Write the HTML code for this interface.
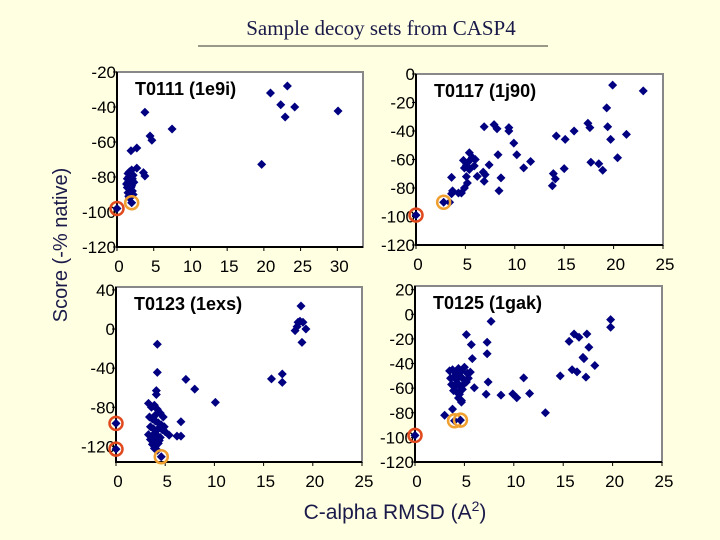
<!DOCTYPE html>
<html><head><meta charset="utf-8"><style>
html,body{margin:0;padding:0;background:#FFFFE1;}
#root{position:relative;width:720px;height:540px;overflow:hidden;background:#FFFFE1;font-family:"Liberation Sans",sans-serif;}
svg{position:absolute;left:0;top:0;}
</style></head><body>
<div id="root">
<svg id="chart" width="720" height="540">
<text x="381" y="35" text-anchor="middle" font-family="Liberation Serif, serif" font-size="21" fill="#1a1a4a">Sample decoy sets from CASP4</text>
<line x1="198" y1="46" x2="548" y2="46" stroke="#333" stroke-width="1"/>
<text transform="translate(67,245) rotate(-90)" text-anchor="middle" font-size="20" fill="#1a1a4a">Score (-% native)</text>
<text x="395" y="519" text-anchor="middle" font-size="21" fill="#1a1a4a">C-alpha RMSD (A<tspan font-size="14" dy="-8">2</tspan><tspan dy="8">)</tspan></text>
</svg>
</div>
<script>
// Panel T0111
const p1X = [20.9,23.2,22.3,24.2,22.9,30.1,19.7,3.8,7.5,4.5,4.75,1.9,2.7,2.7,3.6,3.8,1.5,1.7,2.0,2.2,1.4,1.6,1.9,2.1,1.3,1.5,1.8,2.0,2.3,1.4,1.7,1.9,2.1,1.5,1.8,2.0,1.6,1.9,2.2,1.7];
const p1Y = [-32,-28,-38.7,-40,-45.7,-42.3,-72.8,-43,-52.6,-56.6,-59,-65,-63.4,-74.9,-77.5,-79.4,-78,-77,-76,-79,-81,-80,-82,-81,-84,-83,-84,-85,-83,-86,-87,-86,-88,-89,-88,-90,-91,-91,-90,-92];
const p1HX = [0]; const p1HY = [-98];
const p1OX = [2.0]; const p1OY = [-94.7];
const p1XT = [0,5,10,15,20,25,30]; const p1YT = [-20,-40,-60,-80,-100,-120];
// Panel T0117
const p2X = [19.9,23,19.3,17.4,17.6,19.4,19.7,21.3,20.4,17.7,18.5,18.9,16,14.2,15.1,15,13.9,14.1,13.8,6.9,7.9,8.2,9.4,9.4,9.9,10.2,11.6,10.9,8.3,7.4,6.8,7,6.9,8.6,8.4,5.4,4.8,5.1,5.4,5.7,5.9,6.0,4.9,5.4,6.2,5.1,5.2,4.9,4.6,4.3,3.7,3.6,3.6,3.4];
const p2Y = [-7.8,-11.8,-23.8,-34.6,-37.6,-37,-45.9,-42.4,-58.8,-61.9,-63,-67.5,-40,-43.5,-45.9,-66.4,-69.9,-73.6,-78.4,-37,-35.5,-38.4,-37.6,-40,-48.5,-56.7,-61.4,-65.9,-56.7,-63.8,-68.9,-70.6,-75.3,-72.9,-81.9,-55.3,-60.6,-64,-61,-58.5,-64.5,-60,-66,-67,-71.8,-72,-76.5,-80,-83.5,-83.5,-82,-84,-72.5,-90];
const p2HX = [0]; const p2HY = [-99];
const p2OX = [2.8]; const p2OY = [-90];
const p2XT = [0,5,10,15,20,25]; const p2YT = [0,-20,-40,-60,-80,-100,-120];
// Panel T0123
const p3X = [18.8,18.5,18.7,19.0,18.2,19.3,18.9,18.4,15.8,16.9,16.9,10.1,8,7.1,6.6,6.2,6.6,4.2,4.2,4.1,4.1,5.4,3.3,3.6,3.9,4.2,4.5,4.8,3.4,3.7,4.0,4.3,4.6,4.9,3.5,3.8,4.1,4.4,4.7,5.0,3.3,3.6,3.9,4.2,4.5,3.5,3.8,4.1,4.4,3.7,4.0,4.3,3.9,4.2,4.0];
const p3Y = [23.6,7,8,7,-1.6,0,-13.6,2.5,-51,-46,-54.5,-75,-61.4,-51.5,-94.8,-109.5,-109.5,-15.6,-44.3,-63,-67,-108.5,-76,-80,-78,-82,-86,-90,-90,-92,-94,-96,-98,-100,-100,-102,-104,-101,-103,-105,-108,-110,-107,-109,-111,-113,-115,-112,-114,-118,-120,-117,-122,-124,-88];
const p3HX = [0,0]; const p3HY = [-96.5,-122.8];
const p3OX = [4.6]; const p3OY = [-130.6];
const p3XT = [0,5,10,15,20,25]; const p3YT = [40,0,-40,-80,-120];
// Panel T0125
const p4X = [19.8,19.8,17.4,16.1,16.6,15.6,17.6,17,17.1,18.2,15.9,16.4,17.3,14.7,13.2,11.6,11,9.9,10.3,8.7,7.2,7.4,7.3,7.3,7.7,5.2,5.7,5.8,6,3.5,3.8,4.1,4.4,4.7,5.0,5.3,5.6,3.6,3.9,4.2,4.5,4.8,5.1,5.4,3.7,4.0,4.3,4.6,4.9,5.2,3.9,4.2,4.5,4.8,4.4,4.7,4.7,3.8,3];
const p4Y = [-4.3,-10.5,-16,-16,-18.6,-22,-26.8,-35,-36,-41.6,-45,-46.8,-51,-50,-80,-64.3,-51.6,-64.6,-67.8,-65.7,-65,-55,-32,-22.7,-5.7,-16.5,-24.6,-36,-59.7,-46,-45,-47,-44,-46,-43,-48,-47,-52,-51,-53,-50,-52,-54,-52,-57,-58,-56,-59,-57,-55,-62,-63,-65,-61,-68,-70,-71.4,-77,-82];
const p4HX = [0]; const p4HY = [-98.4];
const p4OX = [4.0,4.6]; const p4OY = [-86.5,-86];
const p4XT = [0,5,10,15,20,25]; const p4YT = [20,0,-20,-40,-60,-80,-100,-120];

const NS = 'http://www.w3.org/2000/svg';
const svg = document.getElementById('chart');
function mk(tag, attrs){ const e=document.createElementNS(NS,tag); for(const k in attrs) e.setAttribute(k,attrs[k]); svg.appendChild(e); return e; }

function panel(id, title, box, xd, yd, xs, ys, hx, hy, ox, oy, xt, yt){
  const sx = v => box.l + (v - xd[0])/(xd[1]-xd[0])*(box.r-box.l);
  const sy = v => box.t + (yd[1] - v)/(yd[1]-yd[0])*(box.b-box.t);
  const bg = mk('rect',{x:box.l,y:box.t,width:box.r-box.l,height:box.b-box.t,fill:'#fff',stroke:'#888','stroke-width':2});
  
  
  const ax = mk('path',{d:`M${box.l},${box.t} V${box.b} H${box.r}`,fill:'none',stroke:'#000','stroke-width':2});
  
  
  yt.forEach(v=>{
    const y=sy(v);
    const tk=mk('line',{x1:box.l-4,y1:y,x2:box.l,y2:y,stroke:'#000','stroke-width':1});
    
    
    const t=mk('text',{x:box.l-1,y:y+6,'text-anchor':'end','font-size':17,fill:'#000'});
    t.textContent=v;
    
    
  });
  xt.forEach(v=>{
    const x=sx(v);
    const tk=mk('line',{x1:x,y1:box.b,x2:x,y2:box.b+4,stroke:'#000','stroke-width':1});
    
    
    const t=mk('text',{x:x+2,y:box.b+25,'text-anchor':'middle','font-size':17,fill:'#000'});
    t.textContent=v;
    
    
  });
  const tt=mk('text',{x:box.l+18,y:box.t+23,'font-size':18,'font-weight':'bold',fill:'#000'});
  tt.textContent=title;
  
  
  const dot=(x,y)=>{
    const cx=sx(x), cy=sy(y);
    const p=mk('path',{d:`M${cx},${cy-4.5} L${cx+4.5},${cy} L${cx},${cy+4.5} L${cx-4.5},${cy} Z`,fill:'#000080'});
    
    
  };
  xs.forEach((x,i)=>dot(x,ys[i]));
  hx.forEach((x,i)=>{ dot(x,hy[i]);
    const c=mk('circle',{cx:sx(x),cy:sy(hy[i]),r:6.5,fill:'none',stroke:'#E04A1E','stroke-width':2.5});
    
    
  });
  ox.forEach((x,i)=>{ dot(x,oy[i]);
    const c=mk('circle',{cx:sx(x),cy:sy(oy[i]),r:6.5,fill:'none',stroke:'#F0A030','stroke-width':2.5});
    
    
  });
}
panel('t0111','T0111 (1e9i)',{l:117,r:363,t:72,b:247},[0,33.5],[-120,-20],p1X,p1Y,p1HX,p1HY,p1OX,p1OY,p1XT,p1YT);
panel('t0117','T0117 (1j90)',{l:416,r:663,t:74,b:245},[0,25],[-120,0],p2X,p2Y,p2HX,p2HY,p2OX,p2OY,p2XT,p2YT);
panel('t0123','T0123 (1exs)',{l:116,r:362,t:287,b:462},[0,25],[-136,43],p3X,p3Y,p3HX,p3HY,p3OX,p3OY,p3XT,p3YT);
panel('t0125','T0125 (1gak)',{l:415,r:662,t:286,b:462},[0,25],[-120,23],p4X,p4Y,p4HX,p4HY,p4OX,p4OY,p4XT,p4YT);
</script>
</body></html>
